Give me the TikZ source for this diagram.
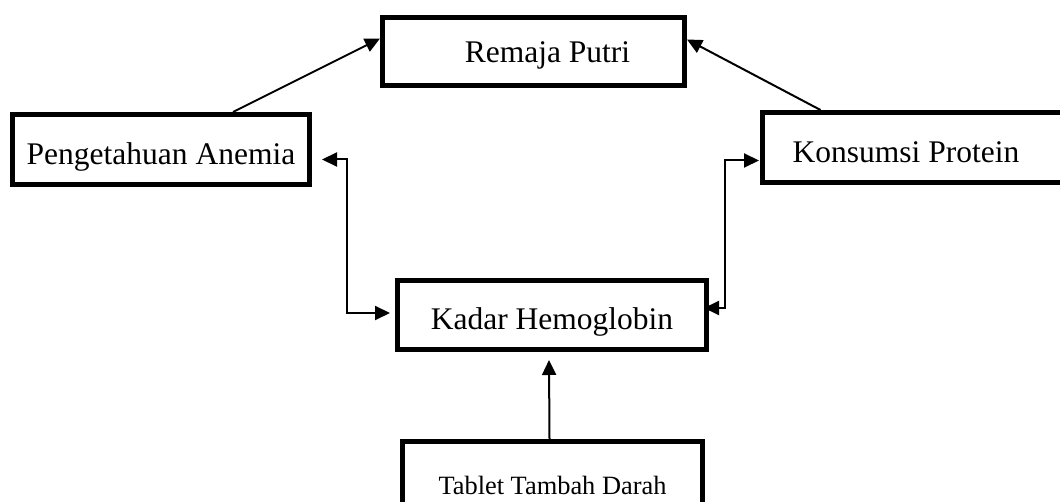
\documentclass[tikz,border=0pt]{standalone}
\usepackage{fontspec}
\setmainfont{Liberation Serif}
\usepackage{tikz}
\usetikzlibrary{positioning, calc}
\usetikzlibrary{arrows.meta}

\begin{document}
\begin{tikzpicture}[
    x=1pt, y=-1pt,
    every node/.style={align=center},
    box/.style={rectangle, draw=black, line width=5pt, inner sep=0pt, text height=36pt, text depth=6pt, font=\fontsize{31.5}{36}\selectfont},
    smallbox/.style={box, text height=40pt, font=\fontsize{26.4}{30}\selectfont},
    arrow/.style={-{Triangle[length=15pt, width=14pt]}, black, line width=2pt},
    twoway/.style={{Triangle[length=15pt, width=14pt]}-{Triangle[length=15pt, width=14pt]}, black, line width=2pt}
]
\useasboundingbox (0,0) rectangle (1060,502);

% Nodes
\node[box, text height=30pt, text depth=7pt, minimum width=302pt, minimum height=68pt] (putri) at (533.5,51.5) {\hspace*{28pt}Remaja Putri};
\node[box, minimum width=297pt, minimum height=70pt] (anemia) at (161,149.5) {Pengetahuan Anemia};
\node[box, minimum width=310pt, minimum height=70pt] (protein) at (917.5,147.5) {Konsumsi Protein\hspace*{23pt}};
\node[box, minimum width=309pt, minimum height=69pt] (hb) at (552,315) {Kadar Hemoglobin};
\node[smallbox, minimum width=300pt, minimum height=71pt] (ttd) at (552.5,477) {Tablet Tambah Darah};

% Arrows
\draw[arrow] ([xshift=72pt]anemia.north) -- ([yshift=13pt]putri.west);
\draw[arrow] ([xshift=-97pt]protein.north) -- ([yshift=12pt]putri.east);
\draw[twoway] ([xshift=10pt, yshift=-10pt]anemia.east) -- ++(25,0) |- ([xshift=-5pt, yshift=2pt]hb.west);
\draw[twoway] ([xshift=-1pt, yshift=-13pt]protein.west) -- ++(-34,0) |- ([xshift=-5pt, yshift=7pt]hb.east);
\draw[arrow] ([xshift=-3pt]ttd.north) -- ([xshift=-3pt, yshift=-8pt]hb.south);

\end{tikzpicture}
\end{document}
